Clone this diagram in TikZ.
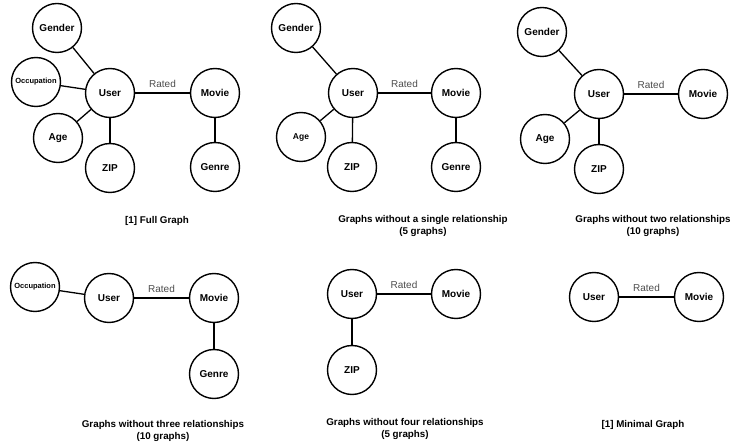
\documentclass[tikz,border=0pt]{standalone}
\usepackage{fontspec}
\setmainfont{Liberation Sans}
\usepackage{tikz}
\usetikzlibrary{positioning, calc}
\definecolor{ratedgray}{rgb}{0.3,0.3,0.3}

\tikzset{
    ent/.style={draw, circle, line width=1.4pt, fill=white,
        minimum size=49pt, inner sep=0pt,
        font=\fontsize{10}{12}\selectfont\bfseries},
    small/.style={font=\fontsize{7.5}{8}\selectfont\bfseries},
    rel/.style={line width=1.3pt},
    rated/.style={above=1pt, text=ratedgray, font=\fontsize{10}{12}\selectfont},
    caption/.style={align=center, font=\fontsize{9.8}{12}\selectfont\bfseries}
}

\begin{document}
\begin{tikzpicture}[x=1pt, y=-1pt]
    \useasboundingbox (0,0) rectangle (732,446);

    % entities: name/x/y/label
    \foreach \n/\x/\y/\t in {
        ga/57/28/Gender, ua/110/93/User, aa/58/138/Age, za/110/168/ZIP,
        ma/215/93/Movie, ea/215/167/Genre,
        gb/296/28/Gender, ub/353/93/User, zb/352/167/ZIP,
        mb/456/93/Movie, eb/456/167/Genre,
        gc/542/32/Gender, uc/599/94/User, ac/545/139/Age, zc/599/169/ZIP,
        mc/703/94/Movie,
        ud/109/298/User, md/214/298/Movie, ed/214/374/Genre,
        ue/352/294/User, me/456/294/Movie, ze/352/370/ZIP,
        uf/594/297/User, mf/699/297/Movie}
        \node[ent] (\n) at (\x,\y) {\t};

    % the smaller labels
    \node[ent, small] (oa) at (36,82) {Occupation};
    \node[ent, font=\fontsize{8.5}{9}\selectfont\bfseries] (ab) at (301,137) {Age};
    \node[ent, small] (od) at (35,287) {Occupation};

    % relationships
    \foreach \a/\b in {
        ga/ua, oa/ua, aa/ua, za/ua, ma/ea,
        gb/ub, ab/ub, zb/ub, mb/eb,
        gc/uc, ac/uc, zc/uc,
        od/ud, md/ed,
        ze/ue}
        \draw[rel] (\a) -- (\b);

    \foreach \u/\m in {ua/ma, ub/mb, uc/mc, ud/md, ue/me, uf/mf}
        \draw[rel] (\u) -- node[rated] {Rated} (\m);

    % captions
    \node[caption] (capa) at (157,221) {[1] Full Graph};
    \node[caption] (capb) at (423,226) {Graphs without a single relationship\\(5 graphs)};
    \node[caption] (capc) at (653,226) {Graphs without two relationships\\(10 graphs)};
    \node[caption] (capd) at (163,431) {Graphs without three relationships\\(10 graphs)};
    \node[caption] (cape) at (405,429) {Graphs without four relationships\\(5 graphs)};
    \node[caption] (capf) at (643,425) {[1] Minimal Graph};
\end{tikzpicture}
\end{document}
